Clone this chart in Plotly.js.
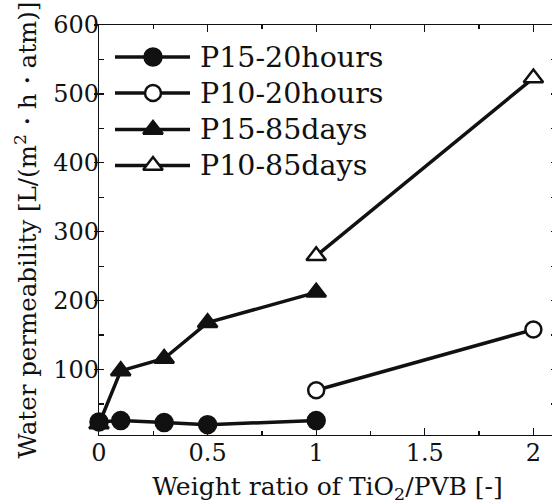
<!DOCTYPE html>
<html>
<head>
<meta charset="utf-8">
<script src="https://cdn.plot.ly/plotly-3.0.1.min.js"></script>
<style>
html,body{margin:0;padding:0;overflow:hidden;background:#fff;}
#chart{width:556px;height:504px;}
</style>
</head>
<body>
<div id="chart"></div>
<script>
// ---- data ----
const seriesNames = ["P15-20hours", "P10-20hours", "P15-85days", "P10-85days"];
const xP15 = [0, 0.1, 0.3, 0.5, 1];
const xP10 = [1, 2];
const yP15_20h = [24, 26, 23, 20, 26];
const yP10_20h = [70, 158];
const yP15_85d = [21, 98, 116, 168, 212];
const yP10_85d = [265, 523];
const xTickVals = [0, 0.5, 1, 1.5, 2];
const xTickText = ["0", "0.5", "1", "1.5", "2"];
const yTickVals = [100, 200, 300, 400, 500, 600];

// ---- styling ----
const INK = "#111";
const FONT = "DejaVu Serif";
const symbols = ["circle", "circle-open", "triangle-up", "triangle-up-open"];
const sizes = [17, 16, 17, 17];
const fills = [INK, "#fff", INK, "#fff"];
const xs = [xP15, xP10, xP15, xP10];
const ys = [yP15_20h, yP10_20h, yP15_85d, yP10_85d];

const traces = [];
for (let i = 0; i < 4; i++) {
  traces.push({
    type: "scatter", mode: "lines+markers", name: seriesNames[i],
    x: xs[i], y: ys[i], cliponaxis: false,
    line: {color: INK, width: 3.5},
    marker: {symbol: symbols[i].replace("-open", ""), size: sizes[i], color: fills[i],
             line: {color: INK, width: 2.5}},
    showlegend: false
  });
}
// carriers so that the overlay label/tick axes get drawn
traces.push({type: "scatter", mode: "markers", x: [null], y: [null], xaxis: "x3", yaxis: "y5",
             showlegend: false, hoverinfo: "skip"});
traces.push({type: "scatter", mode: "markers", x: [null], y: [null], xaxis: "x", yaxis: "y4",
             showlegend: false, hoverinfo: "skip"});

// ---- manual legend (pixel frame on overlay axes) ----
const L = {x0: 115, x1: 190, xm: 153, xt: 198, rows: [57, 93, 129.5, 165.5]};
for (let i = 0; i < 4; i++) {
  traces.push({
    type: "scatter", mode: "lines", xaxis: "x2", yaxis: "y2",
    x: [L.x0, L.x1], y: [L.rows[i], L.rows[i]],
    line: {color: INK, width: 3.5}, showlegend: false, hoverinfo: "skip"
  });
  traces.push({
    type: "scatter", mode: "markers", xaxis: "x2", yaxis: "y2",
    x: [L.xm], y: [L.rows[i]], cliponaxis: false,
    marker: {symbol: symbols[i].replace("-open", ""), size: sizes[i], color: fills[i],
             line: {color: INK, width: 2.5}},
    showlegend: false, hoverinfo: "skip"
  });
}
const annotations = seriesNames.map((n, i) => ({
  xref: "x2", yref: "y2", x: L.xt, y: L.rows[i], text: n,
  xanchor: "left", yanchor: "middle", showarrow: false,
  font: {family: FONT, size: 28.5, color: INK}
}));

const PL = 99, PR = 556, PT = 25, PB = 435;
const XR = [0, (PR - PL) / 217.2];
const YR = [5, 600];

const layout = {
  width: 556, height: 504,
  margin: {l: PL, r: 0, t: PT, b: 504 - PB, pad: 0},
  paper_bgcolor: "#fff", plot_bgcolor: "#fff",
  font: {family: FONT, color: INK},
  showlegend: false,
  // frame + ticks
  xaxis: {
    range: XR, showgrid: false, zeroline: false,
    showline: true, linecolor: INK, linewidth: 1.3, mirror: "ticks",
    tickmode: "array", tickvals: xTickVals, showticklabels: false,
    ticks: "inside", ticklen: 7, tickwidth: 1.3, tickcolor: INK,
    minor: {dtick: 0.25, tick0: 0, ticks: "inside", ticklen: 4, tickwidth: 1.3, tickcolor: INK}
  },
  yaxis: {
    range: YR, showgrid: false, zeroline: false,
    showline: true, linecolor: INK, linewidth: 1.3, mirror: "ticks",
    tickmode: "linear", tick0: 0, dtick: 50, showticklabels: false,
    ticks: "inside", ticklen: 5, tickwidth: 1.3, tickcolor: INK
  },
  yaxis4: {
    overlaying: "y", side: "left", range: YR, showgrid: false, zeroline: false,
    showline: false, showticklabels: false,
    tickmode: "array", tickvals: yTickVals,
    ticks: "outside", ticklen: 4, tickwidth: 1.3, tickcolor: INK
  },
  // labels + titles
  xaxis3: {
    overlaying: "x", anchor: "free", position: 0, range: XR,
    showgrid: false, zeroline: false, showline: false, ticks: "",
    tickmode: "array", tickvals: xTickVals, ticktext: xTickText,
    ticklabelstandoff: 1,
    tickfont: {family: FONT, size: 24, color: INK},
    title: {text: "Weight ratio of TiO<sub>2</sub>/PVB [-]", standoff: 13,
            font: {family: FONT, size: 25, color: INK}}
  },
  yaxis5: {
    overlaying: "y", anchor: "free", position: 0, side: "left", range: YR,
    showgrid: false, zeroline: false, showline: false, ticks: "",
    tickmode: "array", tickvals: yTickVals,
    ticklabelstandoff: 0,
    tickfont: {family: FONT, size: 24, color: INK},
    title: {text: "Water permeability [L/(m<sup>2</sup>・h・atm)]", standoff: 8,
            font: {family: FONT, size: 24.5, color: INK}}
  },
  xaxis2: {overlaying: "x", range: [PL, PR], visible: false, fixedrange: true},
  yaxis2: {overlaying: "y", anchor: "x2", range: [PB, PT], visible: false, fixedrange: true},
  annotations: annotations
};

Plotly.newPlot("chart", traces, layout, {staticPlot: true, displayModeBar: false});
</script>
</body>
</html>
